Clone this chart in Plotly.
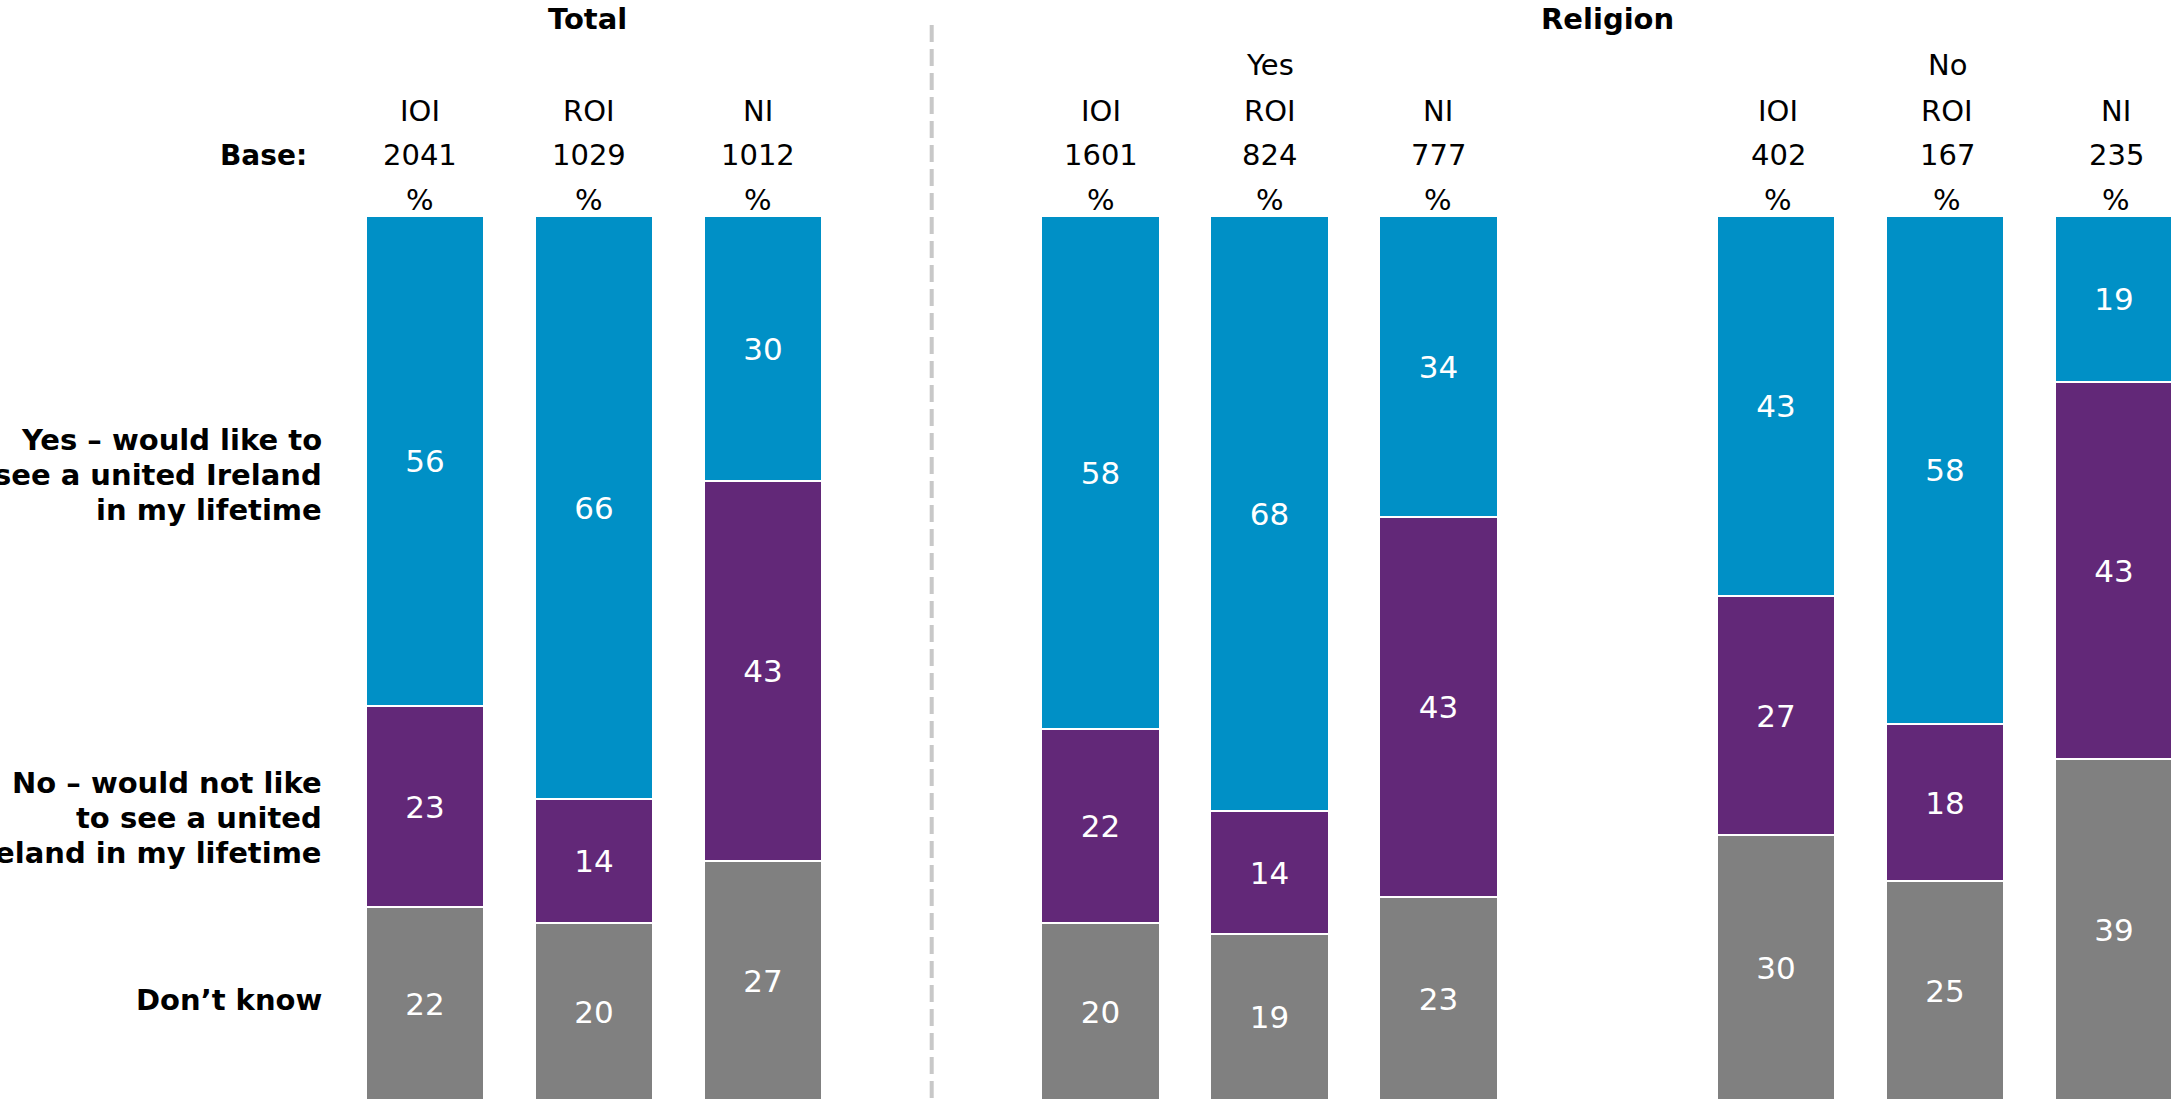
import plotly.graph_objects as go

# ---- data ----
section_titles = ["Total", "Religion"]
group_labels = ["", "Yes", "No"]
regions = ["IOI", "ROI", "NI"]
bases = [[2041, 1029, 1012], [1601, 824, 777], [402, 167, 235]]

answer_lines = {
    "yes": ["Yes \u2013 would like to", "see a united Ireland", "in my lifetime"],
    "no": ["No \u2013 would not like", "to see a united", "Ireland in my lifetime"],
    "dk": ["Don\u2019t know"],
}
dont_know = [22, 20, 27, 20, 19, 23, 30, 25, 39]
no_vals = [23, 14, 43, 22, 14, 43, 27, 18, 43]
yes_vals = [56, 66, 30, 58, 68, 34, 43, 58, 19]

colors = {"dk": "#808080", "no": "#622878", "yes": "#0090C6"}
FONT = "DejaVu Sans"

# positions: each group of 3 bars, groups separated by a gap of one slot
xs = []
for g in range(len(group_labels)):
    for r in range(len(regions)):
        xs.append(g * (len(regions) + 1) + r)

fig = go.Figure()
for key, vals in [("dk", dont_know), ("no", no_vals), ("yes", yes_vals)]:
    fig.add_trace(go.Bar(
        x=xs, y=vals, name=" ".join(answer_lines[key]), text=[str(v) for v in vals],
        textposition="inside", insidetextanchor="middle", textangle=0,
        textfont=dict(family=FONT, size=31, color="white"),
        marker=dict(color=colors[key], line=dict(color="white", width=2)),
        width=0.70, hoverinfo="skip", showlegend=False,
    ))

W, H = 2171, 1102
TOP, BOT = 216, 2
plot_h = H - TOP - BOT


def py(pixel_y):
    """paper y from a pixel row"""
    return (H - BOT - pixel_y) / plot_h


annotations = []
hdr_font = dict(family=FONT, size=29, color="black")
bold_font = dict(family=FONT, size=29, color="black")
lab_font = dict(family=FONT, size=29, color="black")


def ann(x, y, text, font, **kw):
    d = dict(x=x, y=py(y), xref="x", yref="paper", text=text, showarrow=False,
             font=font, yanchor="middle")
    d.update(kw)
    annotations.append(d)


# section titles
ann(1, 19, "<b>Total</b>", bold_font, xshift=-6)
ann(7, 19, "<b>Religion</b>", bold_font)

group_shift = [-5, 0, 2]
for g, glabel in enumerate(group_labels):
    gx = xs[g * 3:(g + 1) * 3]
    sh = group_shift[g]
    if glabel:
        ann(gx[1], 65, glabel, hdr_font, xshift=sh)
    for r, reg in enumerate(regions):
        for txt, yy in [(reg, 111), (str(bases[g][r]), 155), ("%", 200)]:
            ann(gx[r], yy, txt, hdr_font, xshift=sh)

ann(-0.687, 155, "<b>Base:</b>", dict(family=FONT, size=28, color="black"), xanchor="right")

for key, centre in [("yes", 475), ("no", 818), ("dk", 1000)]:
    lines = answer_lines[key]
    n = len(lines)
    for i, line in enumerate(lines):
        yy = centre + (i - (n - 1) / 2) * 35
        ann(-0.598, yy, "<b>" + line + "</b>", lab_font, xanchor="right", align="right")

shapes = [dict(type="line", xref="x", yref="paper", x0=3, x1=3, y0=py(25), y1=py(H),
               line=dict(color="#C8C8C8", width=4, dash="17px,7px"))]

unit = 168.9
x0 = -425 / unit
fig.update_layout(
    width=W, height=H,
    margin=dict(l=0, r=0, t=TOP, b=BOT, pad=0),
    barmode="stack", barnorm="percent", bargap=0,
    plot_bgcolor="white", paper_bgcolor="white",
    xaxis=dict(range=[x0, x0 + W / unit], visible=False, fixedrange=True),
    yaxis=dict(range=[0, 100], visible=False, fixedrange=True),
    annotations=annotations, shapes=shapes,
    font=dict(family=FONT),
)

fig.write_html("out.html", config={"displayModeBar": False},
               post_script="document.body.style.margin='0px';document.body.style.overflow='hidden';")
